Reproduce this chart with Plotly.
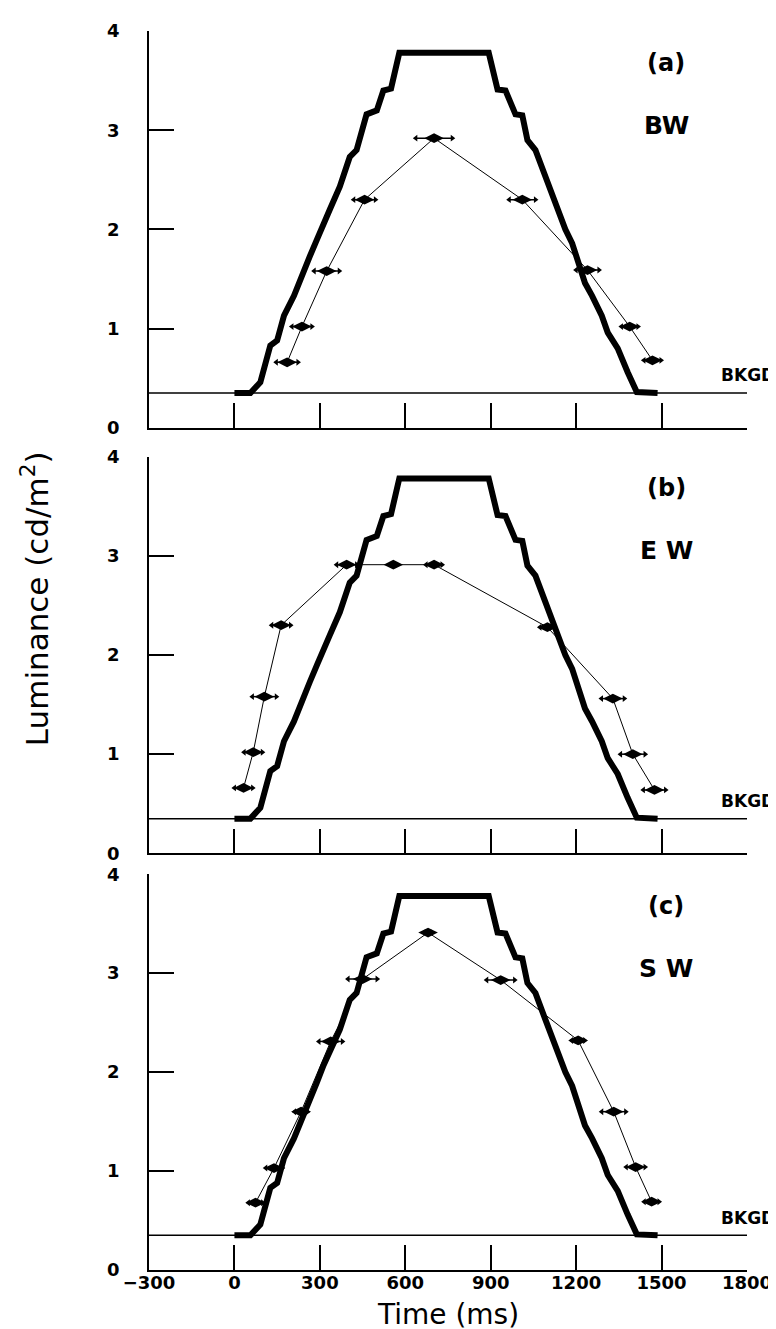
import plotly.graph_objects as go

# ---------------- data ----------------
XMIN, XMAX = -300, 1800
BKGD = 0.35
x_ticks = [-300, 0, 300, 600, 900, 1200, 1500, 1800]
x_tick_labels = ["\u2212300", "0", "300", "600", "900", "1200", "1500", "1800"]
y_ticks = [0, 1, 2, 3, 4]

# stimulus (thick staircase trace), same in all three panels
stim_t = [0, 56, 91, 126, 150, 174, 209, 244, 265, 290, 313, 335, 370, 405, 429, 464,
          500, 523, 550, 579, 893, 924, 952, 987, 1011, 1029, 1057, 1092, 1127, 1162,
          1186, 1207, 1231, 1256, 1290, 1311, 1346, 1381, 1413, 1486]
stim_l = [0.35, 0.35, 0.46, 0.83, 0.88, 1.13, 1.33, 1.56, 1.73, 1.90, 2.07, 2.20, 2.43,
          2.73, 2.80, 3.16, 3.20, 3.40, 3.42, 3.78, 3.78, 3.41, 3.40, 3.16, 3.15, 2.90,
          2.80, 2.53, 2.26, 2.00, 1.86, 1.66, 1.46, 1.33, 1.13, 0.96, 0.80, 0.56, 0.36, 0.35]

# (a) BW
bw_t = [185, 237, 324, 457, 701, 1011, 1240, 1388, 1468]
bw_l = [0.66, 1.02, 1.58, 2.30, 2.92, 2.30, 1.59, 1.02, 0.68]
bw_e = [38, 35, 44, 38, 64, 46, 40, 29, 30]

# (b) EW
ew_t = [32, 66, 105, 164, 394, 558, 701, 1099, 1329, 1399, 1475]
ew_l = [0.66, 1.02, 1.58, 2.30, 2.91, 2.91, 2.91, 2.28, 1.56, 1.00, 0.64]
ew_e = [32, 32, 42, 33, 35, 12, 28, 26, 40, 43, 39]

# (c) SW
sw_t = [74, 139, 234, 338, 450, 680, 935, 1207, 1332, 1409, 1465]
sw_l = [0.68, 1.03, 1.60, 2.31, 2.94, 3.41, 2.93, 2.32, 1.60, 1.04, 0.69]
sw_e = [25, 29, 23, 41, 51, 14, 49, 23, 42, 33, 26]

panels = [
    ("(a)", "BW", bw_t, bw_l, bw_e),
    ("(b)", "E W", ew_t, ew_l, ew_e),
    ("(c)", "S W", sw_t, sw_l, sw_e),
]

# ---------------- figure ----------------
W, H = 776, 1329
ML, MR, MT, MB = 141, 33, 13, 67
PW = W - ML - MR
PH = H - MT - MB
# pixel rows of each panel (top, bottom)
panel_px = [(13, 413), (442, 842), (863, 1262)]
def dom(top, bot):
    return [(H - MB - bot) / PH, (H - MB - top) / PH]

FONT = "DejaVu Sans"
fig = go.Figure()

for i, (lab, name, t, l, e) in enumerate(panels):
    k = "" if i == 0 else str(i + 1)
    xr, yr = "x" + k, "y" + k
    # background line
    fig.add_trace(go.Scatter(x=[XMIN, XMAX], y=[BKGD, BKGD], xaxis=xr, yaxis=yr,
                             mode="lines", line=dict(color="black", width=1.5),
                             hoverinfo="skip", showlegend=False))
    # stimulus
    fig.add_trace(go.Scatter(x=stim_t, y=stim_l, xaxis=xr, yaxis=yr, mode="lines",
                             line=dict(color="black", width=6),
                             showlegend=False))
    # matches with horizontal error bars
    fig.add_trace(go.Scatter(x=t, y=l, xaxis=xr, yaxis=yr, mode="lines+markers",
                             line=dict(color="black", width=1),
                             marker=dict(symbol="diamond-wide", size=14, color="black"),
                             error_x=dict(type="data", array=e, color="black",
                                          thickness=1.5, width=0),
                             showlegend=False))
    # arrow heads
    fig.add_trace(go.Scatter(x=[a - b for a, b in zip(t, e)], y=l, xaxis=xr, yaxis=yr,
                             mode="markers",
                             marker=dict(symbol="triangle-left", size=6, color="black"),
                             showlegend=False, hoverinfo="skip"))
    fig.add_trace(go.Scatter(x=[a + b for a, b in zip(t, e)], y=l, xaxis=xr, yaxis=yr,
                             mode="markers",
                             marker=dict(symbol="triangle-right", size=6, color="black"),
                             showlegend=False, hoverinfo="skip"))

    top, bot = panel_px[i]
    fig.layout["xaxis" + k] = dict(
        domain=[0, 1], anchor=yr, range=[XMIN, XMAX], showline=True, linecolor="black",
        linewidth=1.5, ticks="inside", ticklen=25, tickwidth=1.5, tickcolor="black",
        tickvals=x_ticks, ticktext=x_tick_labels, showticklabels=(i == 2),
        ticklabelstandoff=-4, showgrid=False, zeroline=False,
        tickfont=dict(family=FONT, size=18, color="black", weight="bold"))
    fig.layout["yaxis" + k] = dict(
        domain=dom(top, bot), anchor=xr, range=[0, 4], showline=True, linecolor="black",
        linewidth=1.5, ticks="inside", ticklen=25, tickwidth=1.5, tickcolor="black",
        tickvals=y_ticks, ticklabelstandoff=24, showgrid=False, zeroline=False,
        tickfont=dict(family=FONT, size=18, color="black", weight="bold"))

    fig.add_annotation(x=1517, y=3.68, xref=xr, yref=yr, text=lab, showarrow=False,
                       font=dict(family=FONT, size=24, color="black", weight="bold"))
    fig.add_annotation(x=1517, y=3.05, xref=xr, yref=yr, text=name, showarrow=False,
                       font=dict(family=FONT, size=25, color="black", weight="bold"))
    fig.add_annotation(x=(716 - ML) / PW, y=0.53, xref="paper", yref=yr, text="BKGD",
                       showarrow=False, xanchor="left", borderpad=0,
                       font=dict(family=FONT, size=17, color="black", weight="bold"))

fig.add_annotation(x=0.5, y=(H - MB - 1307) / PH, xref="paper", yref="paper",
                   text="Time (ms)", showarrow=False, yanchor="middle",
                   font=dict(family=FONT, size=28, color="black"))
fig.add_annotation(x=(27 - ML) / PW, y=(H - MB - 585) / PH,
                   xref="paper", yref="paper", text="Luminance (cd/m<sup>2</sup>)",
                   textangle=-90, showarrow=False, xanchor="center", yanchor="middle",
                   font=dict(family=FONT, size=31, color="black"))

fig.update_layout(width=W, height=H, margin=dict(l=ML, r=MR, t=MT, b=MB),
                  plot_bgcolor="white", paper_bgcolor="white", showlegend=False)

fig.write_html("out.html")
